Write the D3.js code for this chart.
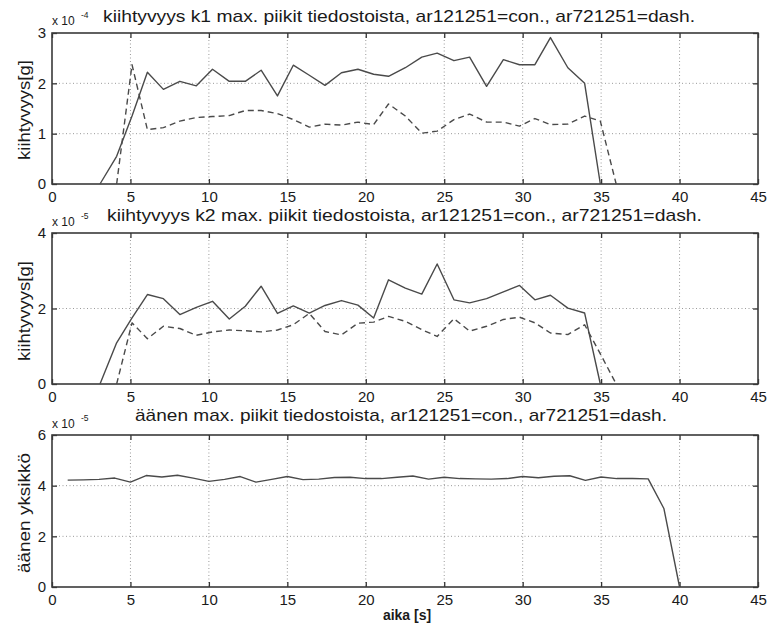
<!DOCTYPE html>
<html>
<head>
<meta charset="utf-8">
<script src="https://cdn.jsdelivr.net/npm/d3@7"></script>
<style>
  html, body { margin: 0; padding: 0; background: #fff; }
  svg { display: block; font-family: "Liberation Sans", Arial, Helvetica, sans-serif; }
</style>
</head>
<body>
<svg id="chart" width="773" height="629"></svg>
<script>
// ---------------- DATA ----------------
const xTicks = [0, 5, 10, 15, 20, 25, 30, 35, 40, 45];

// time points (s) shared by the two acceleration panels
const tAcc = [3.06, 4.12, 5.10, 6.08, 7.10, 8.15, 9.20, 10.23, 11.30, 12.32, 13.33, 14.37, 15.38, 16.40, 17.40, 18.45, 19.50, 20.50, 21.45, 22.52, 23.57, 24.55, 25.62, 26.62, 27.70, 28.77, 29.80, 30.78, 31.77, 32.88, 33.95, 34.95, 35.96];

// k1 (x 10^-4 g)
const k1Con  = [0, 0.55, 1.35, 2.22, 1.88, 2.04, 1.95, 2.28, 2.04, 2.04, 2.26, 1.75, 2.36, 2.16, 1.96, 2.21, 2.28, 2.18, 2.14, 2.31, 2.52, 2.60, 2.45, 2.52, 1.94, 2.47, 2.37, 2.37, 2.91, 2.31, 2.00, 0, null];
const k1Dash = [null, 0, 2.37, 1.08, 1.12, 1.25, 1.32, 1.34, 1.36, 1.46, 1.46, 1.40, 1.28, 1.13, 1.19, 1.17, 1.23, 1.18, 1.59, 1.35, 1.01, 1.05, 1.28, 1.39, 1.23, 1.23, 1.15, 1.30, 1.18, 1.19, 1.35, 1.25, 0];
const k1Ticks = [0, 1, 2, 3];

// k2 (x 10^-5 g)
const k2Con  = [0, 1.09, 1.75, 2.37, 2.26, 1.84, 2.03, 2.19, 1.72, 2.06, 2.59, 1.87, 2.07, 1.88, 2.08, 2.21, 2.09, 1.75, 2.76, 2.54, 2.38, 3.18, 2.23, 2.15, 2.26, 2.44, 2.61, 2.23, 2.35, 2.01, 1.88, 0, null];
const k2Dash = [null, 0, 1.62, 1.20, 1.53, 1.47, 1.29, 1.38, 1.43, 1.41, 1.38, 1.43, 1.57, 1.87, 1.39, 1.30, 1.61, 1.64, 1.79, 1.66, 1.44, 1.26, 1.73, 1.40, 1.53, 1.71, 1.77, 1.62, 1.35, 1.31, 1.57, 0.80, 0];
const k2Ticks = [0, 2, 4];

// sound (x 10^-5)
const tSound = [1, 2, 3, 4, 5, 6, 7, 8, 9, 10, 11, 12, 13, 14, 15, 16, 17, 18, 19, 20, 21, 22, 23, 24, 25, 26, 27, 28, 29, 30, 31, 32, 33, 34, 35, 36, 37, 38, 39, 40];
const sound  = [4.22, 4.23, 4.25, 4.30, 4.14, 4.40, 4.34, 4.41, 4.30, 4.17, 4.25, 4.36, 4.14, 4.25, 4.36, 4.24, 4.26, 4.32, 4.33, 4.28, 4.28, 4.33, 4.38, 4.26, 4.33, 4.28, 4.27, 4.26, 4.28, 4.36, 4.31, 4.37, 4.39, 4.21, 4.34, 4.28, 4.28, 4.27, 3.10, 0];
const soundTicks = [0, 2, 4, 6];

const titles = [
  "kiihtyvyys k1 max. piikit tiedostoista, ar121251=con., ar721251=dash.",
  "kiihtyvyys k2 max. piikit tiedostoista, ar121251=con., ar721251=dash.",
  "äänen max. piikit tiedostoista, ar121251=con., ar721251=dash."
];
const yLabels = ["kiihtyvyys[g]", "kiihtyvyys[g]", "äänen yksikkö"];
const exponents = ["-4", "-5", "-5"];
const xLabel = "aika [s]";

// ---------------- DRAW ----------------
const svg = d3.select("#chart");
const x = d3.scaleLinear().domain([0, 45]).range([52, 758]);

const zip = (t, v) => t.map((tt, i) => ({t: tt, v: v[i]}));

const panels = [
  {top: 33, bottom: 184, ticks: k1Ticks, series: [{d: zip(tAcc, k1Con)}, {d: zip(tAcc, k1Dash), dash: true}],
   title: titles[0], tx: 103, ty: 22, tw: 592, ylab: yLabels[0], ylx: 30, yly: 110, ylw: 100, exp: exponents[0], ey: 25},
  {top: 233, bottom: 384, ticks: k2Ticks, series: [{d: zip(tAcc, k2Con)}, {d: zip(tAcc, k2Dash), dash: true}],
   title: titles[1], tx: 107, ty: 221, tw: 595, ylab: yLabels[1], ylx: 30, yly: 311, ylw: 100, exp: exponents[1], ey: 226},
  {top: 435, bottom: 587, ticks: soundTicks, series: [{d: zip(tSound, sound)}],
   title: titles[2], tx: 135, ty: 421, tw: 532, ylab: yLabels[2], ylx: 30, yly: 513, ylw: 120, exp: exponents[2], ey: 428}
];

const ink = "#1a1a1a";

panels.forEach(p => {
  const y = d3.scaleLinear().domain([p.ticks[0], p.ticks[p.ticks.length - 1]]).range([p.bottom, p.top]);
  const g = svg.append("g");

  // grid
  g.append("g").selectAll("line").data(xTicks.slice(1, -1)).join("line")
    .attr("x1", d => x(d)).attr("x2", d => x(d)).attr("y1", p.top).attr("y2", p.bottom)
    .attr("stroke", "#9a9a9a").attr("stroke-width", 1).attr("stroke-dasharray", "1,2.5");
  g.append("g").selectAll("line").data(p.ticks.slice(1, -1)).join("line")
    .attr("x1", x(0)).attr("x2", x(45)).attr("y1", d => y(d)).attr("y2", d => y(d))
    .attr("stroke", "#9a9a9a").attr("stroke-width", 1).attr("stroke-dasharray", "1,2.5");

  // axes (MATLAB-style inward ticks on all four sides)
  const ab = g.append("g").attr("transform", `translate(0,${p.bottom})`)
    .call(d3.axisBottom(x).tickValues(xTicks).tickFormat(d3.format("d")).tickSizeInner(-5).tickSizeOuter(0).tickPadding(7));
  const at = g.append("g").attr("transform", `translate(0,${p.top})`)
    .call(d3.axisTop(x).tickValues(xTicks).tickSizeInner(-5).tickSizeOuter(0).tickFormat(""));
  const al = g.append("g").attr("transform", `translate(${x(0)},0)`)
    .call(d3.axisLeft(y).tickValues(p.ticks).tickFormat(d3.format("d")).tickSizeInner(-5).tickSizeOuter(0).tickPadding(6));
  const ar = g.append("g").attr("transform", `translate(${x(45)},0)`)
    .call(d3.axisRight(y).tickValues(p.ticks).tickSizeInner(-5).tickSizeOuter(0).tickFormat(""));
  [ab, at, al, ar].forEach(a => {
    a.select(".domain").remove();
    a.selectAll(".tick line").attr("stroke", "#333").attr("stroke-width", 1.3);
    a.selectAll("text").attr("font-size", 15).attr("fill", ink)
      .attr("font-family", "'Liberation Sans', Arial, sans-serif");
  });

  // frame
  g.append("rect").attr("x", x(0)).attr("y", p.top).attr("width", x(45) - x(0)).attr("height", p.bottom - p.top)
    .attr("fill", "none").attr("stroke", "#3a3a3a").attr("stroke-width", 1.6);

  // series
  const line = d3.line().defined(d => d.v != null).x(d => x(d.t)).y(d => y(d.v));
  p.series.forEach(s => {
    g.append("path").datum(s.d).attr("d", line)
      .attr("fill", "none").attr("stroke", "#4a4a4a").attr("stroke-width", 1.4)
      .attr("stroke-linejoin", "round")
      .attr("stroke-dasharray", s.dash ? "6,4" : null);
  });

  // title
  g.append("text").attr("x", p.tx).attr("y", p.ty).text(p.title)
    .attr("font-size", 17).attr("fill", ink)
    .attr("textLength", p.tw).attr("lengthAdjust", "spacingAndGlyphs");

  // exponent
  g.append("text").attr("x", 52).attr("y", p.ey).text("x 10")
    .attr("font-size", 12).attr("fill", ink);
  g.append("text").attr("x", 81).attr("y", p.ey - 7).text(p.exp)
    .attr("font-size", 8.5).attr("fill", ink);

  // y label
  g.append("text").attr("transform", `translate(${p.ylx},${p.yly}) rotate(-90)`)
    .attr("text-anchor", "middle").text(p.ylab)
    .attr("font-size", 17).attr("fill", ink)
    .attr("textLength", p.ylw).attr("lengthAdjust", "spacingAndGlyphs");
});

// x label
svg.append("text").attr("x", 407).attr("y", 620).attr("text-anchor", "middle")
  .text(xLabel).attr("font-size", 14).attr("font-weight", "bold").attr("fill", ink);
</script>
</body>
</html>
